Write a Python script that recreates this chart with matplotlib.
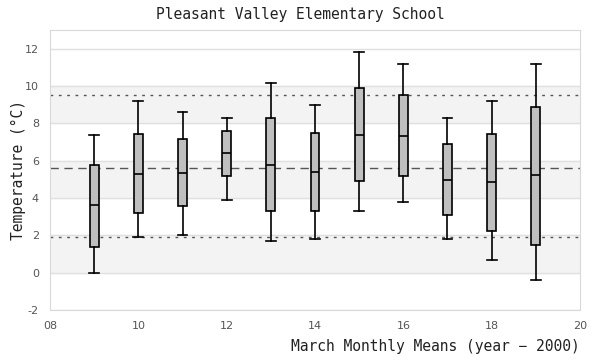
import matplotlib.pyplot as plt

plt.rcParams['axes.unicode_minus'] = False

# March means per year (year - 2000): whisker low, Q1, median, Q3, whisker high
years = [9, 10, 11, 12, 13, 14, 15, 16, 17, 18, 19]
lows = [0.0, 1.93, 2.03, 3.91, 1.71, 1.82, 3.32, 3.80, 1.82, 0.70, -0.37]
q1s = [1.39, 3.21, 3.59, 5.20, 3.32, 3.30, 4.93, 5.16, 3.11, 2.25, 1.50]
medians = [3.60, 5.30, 5.36, 6.43, 5.78, 5.41, 7.39, 7.34, 4.98, 4.87, 5.21]
q3s = [5.78, 7.44, 7.18, 7.61, 8.30, 7.48, 9.91, 9.53, 6.91, 7.44, 8.89]
highs = [7.39, 9.21, 8.62, 8.30, 10.14, 8.98, 11.84, 11.16, 8.30, 9.21, 11.16]

overall_mean = 5.62
lower_ref = 1.92
upper_ref = 9.52

xticks = [8, 10, 12, 14, 16, 18, 20]
yticks = [-2, 0, 2, 4, 6, 8, 10, 12]

mono = 'DejaVu Sans Mono'

fig = plt.figure(figsize=(6, 3.6), dpi=100)
ax = fig.add_axes([50 / 600, 50 / 360, 530 / 600, 280 / 360])

# alternating shaded bands
for lo in [0, 4, 8]:
    ax.axhspan(lo, lo + 2, color='#f3f3f3', zorder=0)
for y in yticks:
    ax.axhline(y, color='#e0e0e0', lw=1, zorder=1)

ax.axhline(overall_mean, color='#555555', lw=1, ls=(0, (6, 4)), zorder=2)
ax.axhline(lower_ref, color='#555555', lw=1, ls=(0, (2, 4)), zorder=2)
ax.axhline(upper_ref, color='#555555', lw=1, ls=(0, (2, 4)), zorder=2)

stats = []
for i in range(len(years)):
    stats.append({'whislo': lows[i], 'q1': q1s[i], 'med': medians[i],
                  'q3': q3s[i], 'whishi': highs[i], 'fliers': []})

bw = 0.2
ax.bxp(stats, positions=years, widths=bw, capwidths=bw * 1.1, patch_artist=True,
       showfliers=False, manage_ticks=False,
       boxprops=dict(facecolor='#bfbfbf', edgecolor='black', lw=1.2),
       medianprops=dict(color='black', lw=1.2),
       whiskerprops=dict(color='black', lw=1.2),
       capprops=dict(color='black', lw=1.2), zorder=3)

ax.set_xlim(8, 20)
ax.set_ylim(-2, 13)
ax.set_xticks(xticks)
ax.set_xticklabels([f'{t:02d}' for t in xticks])
ax.set_yticks(yticks)
ax.tick_params(length=0, colors='#555555', labelsize=8, pad=8)

for s in ax.spines.values():
    s.set_color('#d9d9d9')

fig.text(0.5, 1 - 14 / 360, 'Pleasant Valley Elementary School', ha='center',
         va='center', family=mono, fontsize=10.5, color='#222222')
fig.text(18 / 600, 0.5 + 10 / 360, 'Temperature (°C)', rotation=90, ha='center',
         va='center', family=mono, fontsize=10.5, color='#222222')
fig.text(580 / 600, 1 - 347 / 360, 'March Monthly Means (year − 2000)', ha='right',
         va='center', family=mono, fontsize=10.5, color='#222222')

fig.savefig('out.png', dpi=100)
